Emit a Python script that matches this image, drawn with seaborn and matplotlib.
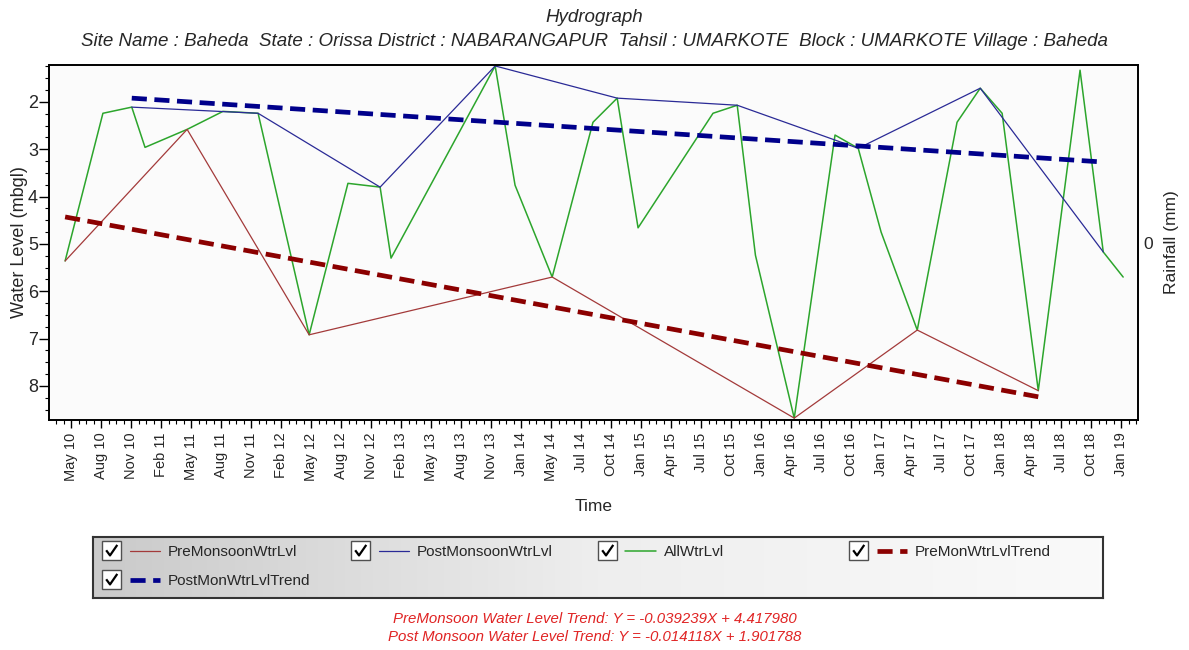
import numpy as np
import pandas as pd
import seaborn as sns
import matplotlib
matplotlib.use("Agg")
import matplotlib.pyplot as plt
import matplotlib.dates as mdates
from matplotlib.ticker import MultipleLocator, AutoMinorLocator
from matplotlib.legend_handler import HandlerBase
from matplotlib.patches import Rectangle
from matplotlib.lines import Line2D
from matplotlib.colors import LinearSegmentedColormap

# ---------------- data ----------------
all_dates = ['2010-04-26', '2010-08-18', '2010-11-13', '2010-12-23', '2011-04-29',
             '2011-08-15', '2011-11-29', '2012-05-01', '2012-08-26', '2012-12-01',
             '2013-01-03', '2013-11-13', '2014-01-12', '2014-05-04', '2014-09-04',
             '2014-11-16', '2015-01-18', '2015-09-01', '2015-11-13', '2016-01-07',
             '2016-05-03', '2016-09-03', '2016-11-12', '2017-01-20', '2017-05-09',
             '2017-09-06', '2017-11-15', '2018-01-20', '2018-05-09', '2018-09-12',
             '2018-11-21', '2019-01-20']
all_levels = [5.36, 2.24, 2.11, 2.96, 2.58,
              2.20, 2.24, 6.92, 3.72, 3.80,
              5.30, 1.24, 3.76, 5.70, 2.43,
              1.92, 4.66, 2.24, 2.07, 5.24,
              8.68, 2.70, 2.98, 4.75, 6.82,
              2.43, 1.71, 2.24, 8.10, 1.33,
              5.17, 5.70]

pre_dates = ['2010-04-26', '2011-04-29', '2012-05-01', '2014-05-04', '2016-05-03',
             '2017-05-09', '2018-05-09']
pre_levels = [5.36, 2.58, 6.92, 5.70, 8.68, 6.82, 8.10]

post_dates = ['2010-11-13', '2011-11-29', '2012-12-01', '2013-11-13', '2014-11-16',
              '2015-11-13', '2016-11-12', '2017-11-15', '2018-11-21']
post_levels = [2.11, 2.24, 3.80, 1.24, 1.92, 2.07, 2.98, 1.71, 5.17]

pre_trend_dates = ['2010-04-26', '2018-05-09']
pre_trend_levels = [4.43, 8.23]
post_trend_dates = ['2010-11-13', '2018-11-21']
post_trend_levels = [1.92, 3.27]

tick_labels = ['May 10', 'Aug 10', 'Nov 10', 'Feb 11', 'May 11', 'Aug 11', 'Nov 11',
               'Feb 12', 'May 12', 'Aug 12', 'Nov 12', 'Feb 13', 'May 13', 'Aug 13',
               'Nov 13', 'Jan 14', 'May 14', 'Jul 14', 'Oct 14', 'Jan 15', 'Apr 15',
               'Jul 15', 'Oct 15', 'Jan 16', 'Apr 16', 'Jul 16', 'Oct 16', 'Jan 17',
               'Apr 17', 'Jul 17', 'Oct 17', 'Jan 18', 'Apr 18', 'Jul 18', 'Oct 18',
               'Jan 19']

series_names = ['PreMonsoonWtrLvl', 'PostMonsoonWtrLvl', 'AllWtrLvl',
                'PreMonWtrLvlTrend', 'PostMonWtrLvlTrend']

title = 'Hydrograph'
subtitle = ('Site Name : Baheda  State : Orissa District : NABARANGAPUR  Tahsil : UMARKOTE  '
            'Block : UMARKOTE Village : Baheda')
eq_pre = 'PreMonsoon Water Level Trend: Y = -0.039239X + 4.417980'
eq_post = 'Post Monsoon Water Level Trend: Y = -0.014118X + 1.901788'

# ---------------- style ----------------
sns.set_theme(style="white")
plt.rcParams['font.family'] = ['Liberation Sans', 'DejaVu Sans']
plt.rcParams['axes.edgecolor'] = 'black'

W, H = 1189, 650
fig = plt.figure(figsize=(W / 100, H / 100), dpi=100)
fig.patch.set_facecolor('white')


def fx(px):
    return px / W


def fy(py):
    return 1 - py / H


ax = fig.add_axes([fx(49), fy(420), fx(1138) - fx(49), fy(65) - fy(420)])
ax.set_facecolor('#fbfbfb')

C_PRE = '#a33a3a'
C_POST = '#2a2a96'
C_ALL = '#2ca52c'
C_PRET = '#8b0000'
C_POSTT = '#00008b'
trend_dash = (0, (3.2, 1.6))

sns.lineplot(x=pd.to_datetime(all_dates), y=all_levels, ax=ax, color=C_ALL, lw=1.1,
             estimator=None, sort=False)
sns.lineplot(x=pd.to_datetime(pre_dates), y=pre_levels, ax=ax, color=C_PRE, lw=0.9,
             estimator=None, sort=False)
sns.lineplot(x=pd.to_datetime(post_dates), y=post_levels, ax=ax, color=C_POST, lw=0.9,
             estimator=None, sort=False)
sns.lineplot(x=pd.to_datetime(pre_trend_dates), y=pre_trend_levels, ax=ax, color=C_PRET,
             lw=3.4, linestyle=trend_dash, estimator=None, sort=False)
sns.lineplot(x=pd.to_datetime(post_trend_dates), y=post_trend_levels, ax=ax, color=C_POSTT,
             lw=3.4, linestyle=trend_dash, estimator=None, sort=False)

line_all, line_pre, line_post, line_pret, line_postt = ax.lines[:5]

# x axis: evenly spaced ticks
tick_pos = pd.date_range('2010-05-15', '2019-01-15', periods=len(tick_labels))
step = (tick_pos[1] - tick_pos[0])
ax.set_xticks(mdates.date2num(tick_pos))
ax.set_xticklabels(tick_labels, rotation=90, fontsize=10.5)
ax.xaxis.set_minor_locator(AutoMinorLocator(4))
ax.set_xlim(mdates.date2num(tick_pos[0] - 0.747 * step),
            mdates.date2num(tick_pos[0] + 35.55 * step))

ax.set_ylim(8.72, 1.22)
ax.yaxis.set_major_locator(MultipleLocator(1))
ax.yaxis.set_minor_locator(MultipleLocator(0.25))
ax.tick_params(axis='x', which='major', direction='out', length=6, width=1,
               bottom=True, color='black', pad=3)
ax.tick_params(axis='y', which='major', direction='out', length=7, width=1,
               left=True, color='black', pad=1, labelsize=13)
ax.tick_params(axis='both', which='minor', direction='out', length=3, width=0.8,
               bottom=True, left=True, color='black')
for s in ax.spines.values():
    s.set_linewidth(1.2)
    s.set_color('black')

ax.set_xlabel('Time', fontsize=12.5, labelpad=13)
ax.set_ylabel('Water Level (mbgl)', fontsize=13, labelpad=0)

ax2 = ax.twinx()
ax2.set_ylim(-1, 1)
ax2.set_yticks([0])
ax2.set_yticklabels(['0'], fontsize=12.5)
ax2.tick_params(axis='y', length=0, pad=4, right=True)
ax2.set_ylabel('Rainfall (mm)', fontsize=12.5, labelpad=8)
ax2.grid(False)
ax.grid(False)

# titles
fig.text(0.5, fy(17), title, ha='center', va='center', style='italic', fontsize=13.5)
fig.text(0.5, fy(41), subtitle, ha='center', va='center', style='italic', fontsize=13.5)

# legend background box with gradient
lax = fig.add_axes([fx(93), fy(598), fx(1103) - fx(93), fy(537) - fy(598)])
grad = np.linspace(0, 1, 256)[None, :]
cmap = LinearSegmentedColormap.from_list('g', ['#cacaca', '#eeeeee', '#fafafa'])
lax.imshow(grad, aspect='auto', cmap=cmap, extent=[0, 1, 0, 1])
lax.set_xticks([])
lax.set_yticks([])
for s in lax.spines.values():
    s.set_linewidth(1.5)
    s.set_color('#333333')


class CheckHandler(HandlerBase):
    def create_artists(self, legend, orig_handle, xdescent, ydescent, width, height,
                       fontsize, trans):
        s = 1.25 * fontsize
        cy = height / 2 - ydescent
        x0 = -xdescent
        box = Rectangle((x0, cy - s / 2), s, s, facecolor='white', edgecolor='#505050',
                        lw=1.0, transform=trans)
        cx = [x0 + 0.22 * s, x0 + 0.42 * s, x0 + 0.80 * s]
        cyy = [cy + 0.02 * s, cy - 0.25 * s, cy + 0.30 * s]
        chk = Line2D(cx, cyy, color='black', lw=1.6, solid_capstyle='butt')
        chk.set_transform(trans)
        lx0 = x0 + s + 0.55 * fontsize
        ln = Line2D([lx0, x0 + width], [cy, cy])
        ln.update_from(orig_handle)
        ln.set_transform(trans)
        ln.set_clip_box(None)
        ln.set_clip_path(None)
        ln.set_clip_on(False)
        return [box, chk, ln]


entries = [(line_pre, series_names[0], 102, 552),
           (line_post, series_names[1], 351, 552),
           (line_all, series_names[2], 598, 552),
           (line_pret, series_names[3], 849, 552),
           (line_postt, series_names[4], 102, 581)]
for h, lab, px, py in entries:
    fig.legend(handles=[h], labels=[lab], loc='center left',
               bbox_to_anchor=(fx(px), fy(py)), frameon=False, borderpad=0,
               borderaxespad=0, handlelength=3.8, handletextpad=0.5, fontsize=11,
               handler_map={Line2D: CheckHandler()})

fig.text(0.5, fy(619), eq_pre, ha='center', va='center', style='italic', fontsize=10.8,
         color='#e02424', family=['Liberation Sans Narrow', 'Liberation Sans'])
fig.text(0.5, fy(637), eq_post, ha='center', va='center', style='italic', fontsize=10.8,
         color='#e02424', family=['Liberation Sans Narrow', 'Liberation Sans'])

fig.savefig('out.png', dpi=100, facecolor='white')
